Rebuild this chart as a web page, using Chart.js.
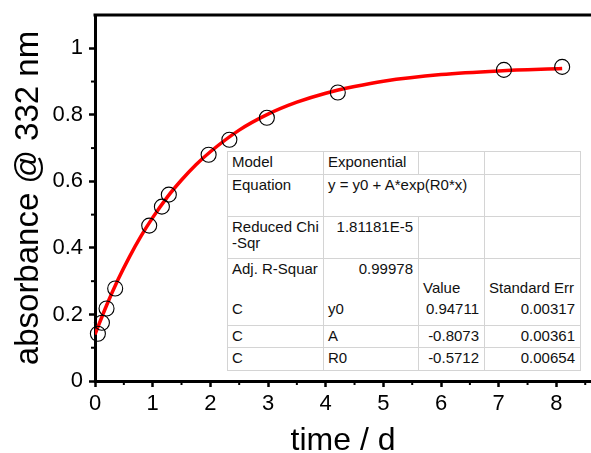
<!DOCTYPE html>
<html>
<head>
<meta charset="utf-8">
<script src="https://cdn.jsdelivr.net/npm/chart.js@4/dist/chart.umd.min.js"></script>
<style>
  body { margin: 0; background: #fff; }
  #wrap { position: relative; width: 591px; height: 453px; overflow: hidden; }
  #fitTable {
    position: absolute; left: 227px; top: 151px; width: 353px;
    border-collapse: collapse; table-layout: fixed; background: #fff;
    border: 1px solid #333;
    font-family: 'Liberation Sans', Arial, sans-serif; font-size: 15px; color: #111;
  }
  #fitTable td {
    border: 1px solid #d4d4d4; padding: 1.5px 4px 0 4px; line-height: 16.7px;
    vertical-align: top; white-space: nowrap; overflow: visible;
  }
  #fitTable td.r { text-align: right; padding-right: 5px; }
  #fitTable tr.nob td { border-bottom: none; }
  #fitTable tr.not td { border-top: none; }
</style>
</head>
<body>
<div id="wrap">
  <canvas id="chartFit" width="591" height="453"></canvas>
  <table id="fitTable"></table>
</div>
<script>
// measured points
var timeDays = [0.05, 0.12, 0.2, 0.35, 0.94, 1.16, 1.28, 1.97, 2.33, 2.98, 4.21, 7.09, 8.1]
var absorbance = [0.142, 0.175, 0.218, 0.278, 0.467, 0.524, 0.56, 0.68, 0.725, 0.791, 0.867, 0.935, 0.944]

// red fit curve
var fitTime = [0, 0.2, 0.4, 0.6, 0.8, 1, 1.25, 1.5, 1.75, 2, 2.5, 3, 3.5, 4, 4.5, 5, 6, 7, 8.1]
var fitAbsorbance = [0.14, 0.227, 0.305, 0.374, 0.436, 0.491, 0.552, 0.604, 0.65, 0.689, 0.754, 0.802, 0.838, 0.865, 0.885, 0.901, 0.921, 0.932, 0.939]

// axes
var xTicks = [0, 1, 2, 3, 4, 5, 6, 7, 8]
var xMinorTicks = [0.5, 1.5, 2.5, 3.5, 4.5, 5.5, 6.5, 7.5, 8.5]
var yTicks = [0, 0.2, 0.4, 0.6, 0.8, 1]
var yMinorTicks = [0.1, 0.3, 0.5, 0.7, 0.9]

// fit report
var paramNames = ['y0', 'A', 'R0']
var paramValues = ['0.94711', '-0.8073', '-0.5712']
var paramErrors = ['0.00317', '0.00361', '0.00654']
var modelName = 'Exponential'
var equation = 'y = y0 + A*exp(R0*x)'
var reducedChiSqr = '1.81181E-5'
var adjRSquare = '0.99978'

// table
var rows = ''
rows += '<tr style="height:23px"><td>Model</td><td>' + modelName + '</td><td></td><td></td></tr>'
rows += '<tr style="height:42px"><td>Equation</td><td colspan="2">' + equation + '</td><td></td></tr>'
rows += '<tr style="height:42px"><td>Reduced Chi<br>-Sqr</td><td class="r">' + reducedChiSqr + '</td><td></td><td></td></tr>'
rows += '<tr class="nob" style="height:20px"><td>Adj. R-Squar</td><td class="r">' + adjRSquare + '</td><td></td><td></td></tr>'
rows += '<tr class="nob not" style="height:21px"><td></td><td></td><td>Value</td><td>Standard Err</td></tr>'
for (var i = 0; i < paramNames.length; i++) {
  rows += '<tr' + (i == 0 ? ' class="not"' : '') + ' style="height:' + [26, 22, 23][i] + 'px"><td>C</td><td>' + paramNames[i] +
    '</td><td class="r">' + paramValues[i] + '</td><td class="r">' + paramErrors[i] + '</td></tr>'
}
document.getElementById('fitTable').innerHTML =
  '<colgroup><col style="width:96px"><col style="width:95px"><col style="width:66px"><col style="width:96px"></colgroup>' + rows

// top frame line + minor ticks
var framePlugin = {
  id: 'frame',
  afterDraw: function (chart) {
    var ctx = chart.ctx
    var area = chart.chartArea
    var xs = chart.scales.x
    var ys = chart.scales.y
    ctx.save()
    ctx.strokeStyle = '#000'
    ctx.lineWidth = 3
    ctx.beginPath()
    ctx.moveTo(area.left - 1.5, area.top)
    ctx.lineTo(area.right, area.top)
    ctx.stroke()
    ctx.lineWidth = 2
    xMinorTicks.forEach(function (v) {
      var px = xs.getPixelForValue(v)
      ctx.beginPath()
      ctx.moveTo(px, area.bottom)
      ctx.lineTo(px, area.bottom + 4)
      ctx.stroke()
    })
    yMinorTicks.forEach(function (v) {
      var py = ys.getPixelForValue(v)
      ctx.beginPath()
      ctx.moveTo(area.left - 4, py)
      ctx.lineTo(area.left, py)
      ctx.stroke()
    })
    ctx.restore()
  }
}

var chartFitCanvas = document.getElementById('chartFit').getContext('2d')
var tickFont = { family: "'Liberation Sans', Arial, sans-serif", size: 22 }

new Chart(chartFitCanvas, {
  type: 'scatter',
  data: {
    datasets: [
      {
        data: timeDays.map(function (t, i) { return { x: t, y: absorbance[i] } }),
        pointStyle: 'circle',
        pointRadius: 7.5,
        pointBorderWidth: 1.1,
        pointBorderColor: '#000',
        pointBackgroundColor: 'rgba(0,0,0,0)',
        clip: false,
        order: 0
      },
      {
        type: 'line',
        data: fitTime.map(function (t, i) { return { x: t, y: fitAbsorbance[i] } }),
        borderColor: '#ff0000',
        borderWidth: 3.5,
        pointRadius: 0,
        cubicInterpolationMode: 'monotone',
        fill: false,
        order: 1
      }
    ]
  },
  options: {
    responsive: false,
    animation: false,
    layout: { autoPadding: false, padding: { left: 0, top: 15, right: 0, bottom: 0 } },
    plugins: { legend: { display: false }, tooltip: { enabled: false } },
    scales: {
      x: {
        type: 'linear',
        min: 0,
        max: 8.6,
        afterBuildTicks: function (scale) { scale.ticks = xTicks.map(function (v) { return { value: v } }) },
        afterFit: function (scale) { scale.height = 72; scale.paddingLeft = 0; scale.paddingRight = 0 },
        ticks: { font: tickFont, color: '#000', padding: 4, maxRotation: 0, callback: function (v) { return String(v) } },
        grid: { drawOnChartArea: false, tickLength: 6, tickWidth: 2.5, tickColor: '#000' },
        border: { color: '#000', width: 3 },
        title: {
          display: true,
          text: 'time / d',
          color: '#000',
          font: { family: "'Liberation Sans', Arial, sans-serif", size: 32, lineHeight: 0.75 },
          padding: 0
        }
      },
      y: {
        min: 0,
        max: 1.1,
        afterBuildTicks: function (scale) { scale.ticks = yTicks.map(function (v) { return { value: v } }) },
        afterFit: function (scale) { scale.width = 95; scale.paddingTop = 0; scale.paddingBottom = 0 },
        ticks: { font: tickFont, color: '#000', padding: 6, callback: function (v) { return String(v) } },
        grid: { drawOnChartArea: false, tickLength: 6, tickWidth: 2.5, tickColor: '#000' },
        border: { color: '#000', width: 3 },
        title: {
          display: true,
          text: 'absorbance @ 332 nm',
          color: '#000',
          font: { family: "'Liberation Sans', Arial, sans-serif", size: 33, lineHeight: 1.2 },
          padding: { top: 9, bottom: 0 }
        }
      }
    }
  },
  plugins: [framePlugin]
})
</script>
</body>
</html>
